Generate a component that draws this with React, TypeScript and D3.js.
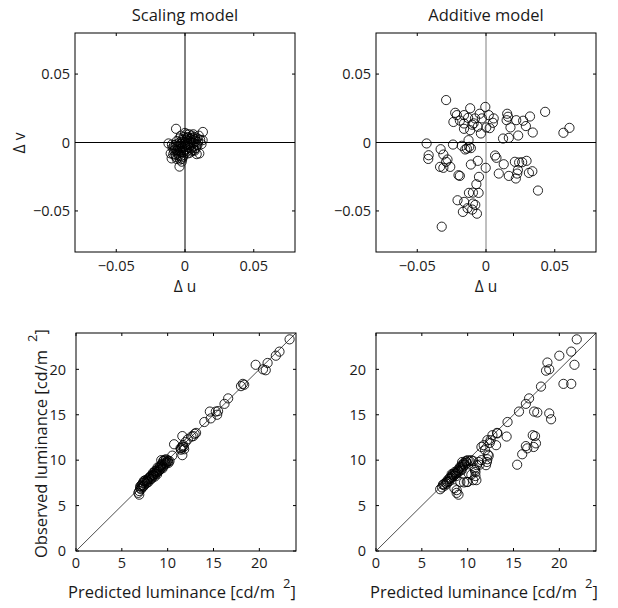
import React, { useRef, useEffect } from 'react';
import * as d3 from 'd3';

// top row: chromaticity residuals (du, dv)
const scalingUV: [number, number][] = [
  [-0.0065, 0.010], [0.013, 0.0077], [0.0128, 0.0017], [0.012, -0.0012], [0.0104, -0.008],
  [0.0085, -0.0085], [-0.012, -0.0007], [-0.0104, -0.008], [-0.0097, -0.0116], [-0.004, -0.0176],
  [-0.0024, -0.014], [0.0, 0.007], [-0.008, -0.002], [-0.007, -0.005], [-0.006, 0.001],
  [-0.005, -0.003], [-0.005, -0.008], [-0.004, 0.003], [-0.004, -0.006], [-0.003, -0.001],
  [-0.003, -0.010], [-0.002, 0.002], [-0.002, -0.004], [-0.001, 0.004], [-0.001, -0.007],
  [0.0, 0.0], [0.0, -0.003], [0.001, 0.002], [0.001, -0.005], [0.002, 0.004],
  [0.002, -0.001], [0.003, 0.001], [0.003, -0.004], [0.004, 0.003], [0.004, -0.002],
  [0.005, 0.005], [0.005, 0.0], [0.006, 0.002], [0.006, -0.003], [0.007, 0.004],
  [0.007, -0.006], [0.008, 0.001], [0.009, 0.003], [0.009, -0.002], [0.010, 0.005],
  [-0.007, -0.009], [-0.006, -0.012], [-0.009, -0.004], [-0.003, 0.005], [0.001, 0.006],
  [-0.002, -0.012], [0.003, 0.006], [0.011, 0.002], [-0.001, -0.009], [0.005, -0.006],
  [-0.006, -0.006], [0.008, -0.004], [-0.004, 0.0], [0.002, -0.008], [-0.008, -0.006],
  [0.006, 0.006], [-0.003, -0.007], [0.0, 0.003], [-0.0075, -0.0035], [-0.0065, -0.0015],
  [-0.0055, -0.0055], [-0.0045, -0.0095], [-0.0035, -0.0045], [-0.0025, -0.0025], [-0.0015, 0.0005],
  [-0.0005, -0.0055], [0.0005, -0.0015], [0.0015, 0.0035], [0.0025, -0.0035], [0.0035, 0.0025],
  [0.0045, -0.0045], [0.0055, 0.0035], [0.0065, -0.0005], [0.0075, 0.0025], [0.0085, -0.0015],
  [-0.0085, -0.0085], [-0.0065, -0.0105], [-0.0035, -0.0125], [-0.0015, -0.0105], [0.0015, -0.0065],
  [0.0035, -0.0075], [0.0065, -0.0055], [0.0095, 0.0005], [-0.0095, -0.0015], [-0.0045, -0.0025],
];

const additiveUV: [number, number][] = [
  [-0.029, 0.031], [-0.0224, 0.0217], [-0.0212, 0.020], [-0.0237, 0.015], [-0.019, 0.016],
  [-0.016, 0.020], [-0.0115, 0.025], [-0.016, 0.010], [-0.013, 0.018], [-0.010, 0.013],
  [-0.008, 0.0176], [-0.009, 0.014], [-0.0046, 0.021], [-0.003, 0.0176], [-0.0005, 0.026],
  [0.002, 0.020], [0.0056, 0.0176], [0.005, 0.0144], [0.0002, 0.011], [0.0027, 0.0105],
  [-0.0037, 0.0066], [-0.0115, 0.009], [-0.006, 0.0115], [0.0154, 0.021], [0.016, 0.0188],
  [0.015, 0.0163], [0.022, 0.0163], [0.0178, 0.011], [0.027, 0.0159], [0.029, 0.012],
  [0.032, 0.019], [0.043, 0.0224], [0.034, 0.0073], [0.0234, 0.0051], [0.0166, 0.0034],
  [0.0124, 0.0029], [0.0563, 0.0071], [0.0607, 0.0107], [-0.0432, -0.0007], [-0.0417, -0.0093],
  [-0.042, -0.012], [-0.033, -0.0049], [-0.031, -0.0088], [-0.028, -0.0124], [-0.029, -0.0141],
  [-0.0334, -0.0178], [-0.031, -0.0185], [-0.026, -0.0178], [-0.024, -0.0015], [-0.0176, -0.0024],
  [-0.0151, -0.0051], [-0.0127, 0.0017], [-0.0122, -0.0032], [-0.0139, -0.0044], [-0.011, -0.0041],
  [-0.020, -0.0239], [-0.019, -0.0244], [-0.011, -0.0161], [-0.006, -0.0134], [-0.0002, -0.0185],
  [0.0066, -0.0095], [0.0076, -0.0112], [0.0093, -0.0227], [0.0129, -0.0159], [0.0166, -0.0244],
  [0.021, -0.0141], [0.0241, -0.0146], [0.0263, -0.0144], [0.0295, -0.0134], [0.0232, -0.0202],
  [0.0227, -0.0227], [0.0217, -0.0263], [0.0312, -0.0222], [0.0337, -0.021], [0.0378, -0.0351],
  [-0.0051, -0.0251], [-0.007, -0.0305], [-0.0095, -0.0366], [-0.0124, -0.0368], [-0.0054, -0.0368],
  [-0.0207, -0.0422], [-0.0159, -0.0434], [-0.0168, -0.0507], [-0.0134, -0.048], [-0.0095, -0.0446],
  [-0.0078, -0.0456], [-0.01, -0.049], [-0.0066, -0.052], [-0.0322, -0.0615], [-0.016, 0.0139],
];

// bottom row: predicted vs observed luminance
const scalingLum: [number, number][] = [
  [6.8, 6.4], [6.9, 6.6], [7.0, 6.9], [7.0, 7.1], [7.2, 7.0], [7.2, 7.3], [7.3, 7.5], [7.4, 7.2],
  [7.5, 7.6], [7.6, 7.4], [7.7, 7.7], [7.8, 7.9], [7.9, 7.6], [8.0, 8.1], [8.1, 7.9], [8.2, 8.3],
  [8.3, 8.1], [8.4, 8.6], [8.5, 8.4], [8.6, 8.8], [8.7, 8.5], [8.8, 8.9], [8.9, 8.7], [9.0, 9.1],
  [9.1, 8.9], [9.2, 9.4], [9.3, 9.2], [9.4, 9.6], [9.5, 9.3], [9.5, 9.9], [9.6, 10.0], [9.7, 9.7],
  [9.8, 10.1], [9.9, 9.8], [10.0, 10.0], [10.1, 9.7], [10.2, 9.9], [9.3, 10.0], [8.9, 9.2],
  [8.6, 8.2], [7.4, 7.7], [7.1, 6.8], [6.9, 6.2], [10.5, 10.5], [10.7, 11.75], [11.6, 10.55],
  [11.4, 11.3], [11.6, 11.5], [11.7, 11.65], [11.8, 11.2], [11.95, 12.0], [11.6, 12.65],
  [12.2, 12.3], [12.6, 12.6], [12.8, 12.65], [12.95, 12.9], [13.1, 13.0], [14.0, 14.2],
  [14.7, 14.6], [14.6, 15.35], [15.25, 15.35], [15.4, 15.0], [15.5, 15.4], [16.2, 16.2],
  [16.6, 16.8], [18.0, 18.15], [18.35, 18.3], [18.2, 18.4], [19.6, 20.5], [20.4, 20.0],
  [20.7, 19.9], [20.9, 20.7], [21.8, 21.5], [22.2, 21.95], [23.3, 23.3],
  [7.1, 7.2], [7.35, 7.1], [7.55, 7.8], [7.75, 7.5], [7.95, 8.0], [8.15, 8.2], [8.25, 7.95],
  [8.45, 8.3], [8.55, 8.65], [8.75, 8.7], [8.85, 8.45], [9.05, 8.85], [9.15, 9.25], [9.35, 9.45],
  [9.45, 9.1], [9.65, 9.5], [9.75, 9.95], [9.85, 9.6], [10.05, 9.85], [9.2, 9.0], [8.4, 8.4],
  [7.8, 7.7], [11.5, 11.35], [11.75, 11.45], [11.45, 11.15],
];

const additiveLum: [number, number][] = [
  [7.0, 6.8], [7.2, 7.0], [7.3, 7.3], [7.5, 7.2], [7.6, 7.5], [7.8, 7.6], [7.9, 7.9], [8.0, 7.7],
  [8.1, 8.1], [8.3, 8.2], [8.4, 8.5], [8.5, 8.3], [8.6, 8.7], [8.7, 8.5], [8.9, 8.9], [9.0, 8.7],
  [9.1, 9.1], [9.2, 9.3], [9.3, 9.0], [9.4, 9.5], [9.5, 9.3], [9.6, 9.7], [9.7, 9.5], [9.8, 9.9],
  [9.9, 9.7], [10.0, 10.0], [10.2, 9.9], [10.4, 10.0], [10.6, 9.9], [7.7, 7.4], [8.2, 8.0],
  [8.8, 8.6], [9.4, 9.8], [8.55, 6.9], [8.8, 6.4], [9.0, 6.2], [8.8, 6.7], [9.2, 7.6], [9.6, 7.55],
  [9.9, 7.6], [10.0, 7.6], [10.6, 7.8], [10.95, 7.8], [10.4, 8.4], [10.1, 8.55], [10.85, 8.25],
  [10.85, 8.7], [10.8, 8.9], [10.75, 9.1], [11.0, 9.45], [11.3, 9.5], [11.2, 9.8], [11.5, 10.0],
  [12.0, 9.45], [12.1, 9.8], [12.15, 10.1], [12.3, 10.5], [12.2, 10.6], [11.9, 11.1], [11.5, 11.45],
  [11.75, 11.65], [12.4, 11.9], [12.15, 12.2], [12.5, 12.2], [12.7, 12.75], [13.1, 11.65],
  [13.2, 13.0], [13.25, 12.95], [14.25, 12.6], [14.35, 14.2], [15.4, 9.5], [15.95, 10.65],
  [16.35, 11.55], [16.5, 11.3], [17.2, 11.45], [17.45, 11.85], [17.1, 12.75], [17.35, 12.65],
  [17.25, 15.35], [17.6, 15.25], [18.9, 15.15], [19.1, 14.5], [15.6, 15.35], [16.35, 16.2],
  [16.7, 16.8], [18.0, 18.1], [18.55, 19.85], [18.7, 20.75], [18.9, 20.0], [20.45, 18.4],
  [21.3, 18.4], [20.0, 21.5], [21.65, 20.5], [21.3, 21.95], [21.9, 23.3],
  [7.4, 7.35], [7.7, 7.65], [8.05, 7.95], [8.35, 8.35], [8.65, 8.55], [8.95, 8.8], [9.25, 9.2],
  [9.55, 9.55], [9.85, 9.85], [8.25, 8.45], [8.75, 8.25], [9.35, 8.9],
];

const uvTicks = [-0.05, 0, 0.05];
const lumTicks = [0, 5, 10, 15, 20];
const titles = ['Scaling model', 'Additive model'];

const FONT = '"Open Sans", sans-serif';
const INK = '#1a1a1a';

function App() {
  const svgRef = useRef<SVGSVGElement>(null);

  useEffect(() => {
    const svg = d3.select(svgRef.current);
    svg.selectAll('*').remove();

    const fmtUV = (d: number) => (d === 0 ? '0' : d3.format('.2f')(d));

    const drawPanel = (opts: any) => {
      const { left, top, size, domain, ticks, fmt, data, title, cross, vColor, diag } = opts;
      const x = d3.scaleLinear().domain(domain).range([left, left + size.w]);
      const y = d3.scaleLinear().domain(domain).range([top + size.h, top]);
      const g = svg.append('g');

      if (cross) {
        g.append('line').attr('x1', x(domain[0])).attr('x2', x(domain[1]))
          .attr('y1', y(0)).attr('y2', y(0)).attr('stroke', '#000').attr('stroke-width', 1);
        g.append('line').attr('x1', x(0)).attr('x2', x(0))
          .attr('y1', y(domain[0])).attr('y2', y(domain[1])).attr('stroke', vColor).attr('stroke-width', 1);
      }
      if (diag) {
        g.append('line').attr('x1', x(domain[0])).attr('y1', y(domain[0]))
          .attr('x2', x(domain[1])).attr('y2', y(domain[1]))
          .attr('stroke', '#000').attr('stroke-width', 0.7);
      }

      g.selectAll('circle.pt')
        .data(data)
        .enter()
        .append('circle')
        .attr('class', 'pt')
        .attr('cx', (d: any) => x(d[0]))
        .attr('cy', (d: any) => y(d[1]))
        .attr('r', 4.6)
        .attr('fill', 'none')
        .attr('stroke', '#000')
        .attr('stroke-width', 0.85);

      // box
      g.append('rect').attr('x', left).attr('y', top).attr('width', size.w).attr('height', size.h)
        .attr('fill', 'none').attr('stroke', '#000').attr('stroke-width', 1);

      // inward ticks on all sides
      const tl = 3;
      ticks.forEach((t: number) => {
        g.append('line').attr('x1', x(t)).attr('x2', x(t)).attr('y1', top + size.h).attr('y2', top + size.h - tl).attr('stroke', '#000');
        g.append('line').attr('x1', x(t)).attr('x2', x(t)).attr('y1', top).attr('y2', top + tl).attr('stroke', '#000');
        g.append('line').attr('y1', y(t)).attr('y2', y(t)).attr('x1', left).attr('x2', left + tl).attr('stroke', '#000');
        g.append('line').attr('y1', y(t)).attr('y2', y(t)).attr('x1', left + size.w).attr('x2', left + size.w - tl).attr('stroke', '#000');
        g.append('text').attr('x', x(t)).attr('y', top + size.h + opts.xLabGap)
          .attr('text-anchor', 'middle').attr('font-family', FONT).attr('font-size', 14.5).attr('fill', INK)
          .text(fmt(t));
        g.append('text').attr('x', left - opts.yLabGap).attr('y', y(t) + 5.2)
          .attr('text-anchor', 'end').attr('font-family', FONT).attr('font-size', 14.5).attr('fill', INK)
          .text(fmt(t));
      });

      if (title) {
        g.append('text').attr('x', left + size.w / 2).attr('y', 21)
          .attr('text-anchor', 'middle').attr('font-family', FONT).attr('font-size', 16.5).attr('fill', INK)
          .text(title);
      }
      return g;
    };

    const boxTop = { w: 220, h: 219 };
    const boxBot = { w: 220, h: 218 };

    drawPanel({ left: 75, top: 33, size: boxTop, domain: [-0.08, 0.08], ticks: uvTicks, fmt: fmtUV,
      data: scalingUV, title: titles[0], cross: true, vColor: '#000', yLabGap: 5, xLabGap: 19 });
    drawPanel({ left: 376, top: 33, size: boxTop, domain: [-0.08, 0.08], ticks: uvTicks, fmt: fmtUV,
      data: additiveUV, title: titles[1], cross: true, vColor: '#808080', yLabGap: 5, xLabGap: 19 });
    drawPanel({ left: 76, top: 333, size: boxBot, domain: [0, 24], ticks: lumTicks, fmt: String,
      data: scalingLum, diag: true, yLabGap: 10, xLabGap: 17 });
    drawPanel({ left: 376, top: 333, size: boxBot, domain: [0, 24], ticks: lumTicks, fmt: String,
      data: additiveLum, diag: true, yLabGap: 10, xLabGap: 17 });

    // axis labels
    [185, 486].forEach((cx) => {
      svg.append('text').attr('x', cx).attr('y', 292).attr('text-anchor', 'middle')
        .attr('font-family', FONT).attr('font-size', 15.5).attr('fill', INK).text('\u0394 u');
    });
    svg.append('text').attr('transform', 'translate(25,143) rotate(-90)').attr('text-anchor', 'middle')
      .attr('font-family', FONT).attr('font-size', 15.5).attr('fill', INK).text('\u0394 v');

    [68, 370].forEach((sx) => {
      const t = svg.append('text').attr('x', sx).attr('y', 598)
        .attr('font-family', FONT).attr('font-size', 16.5).attr('fill', INK);
      t.append('tspan').text('Predicted luminance [cd/m');
      t.append('tspan').attr('dx', 8).attr('dy', -10).attr('font-size', 13).text('2');
      t.append('tspan').attr('dy', 10).text(']');
    });

    const yl = svg.append('text').attr('transform', 'translate(47,558) rotate(-90)')
      .attr('font-family', FONT).attr('font-size', 16.5).attr('fill', INK);
    yl.append('tspan').text('Observed luminance [cd/m');
    yl.append('tspan').attr('dx', 8).attr('dy', -10).attr('font-size', 13).text('2');
    yl.append('tspan').attr('dy', 10).text(']');
  }, []);

  return (
    <svg
      ref={svgRef}
      width={618}
      height={608}
      viewBox="0 0 618 608"
      style={{ position: 'absolute', left: 0, top: 0, background: '#fff' }}
    />
  );
}

export default App;
